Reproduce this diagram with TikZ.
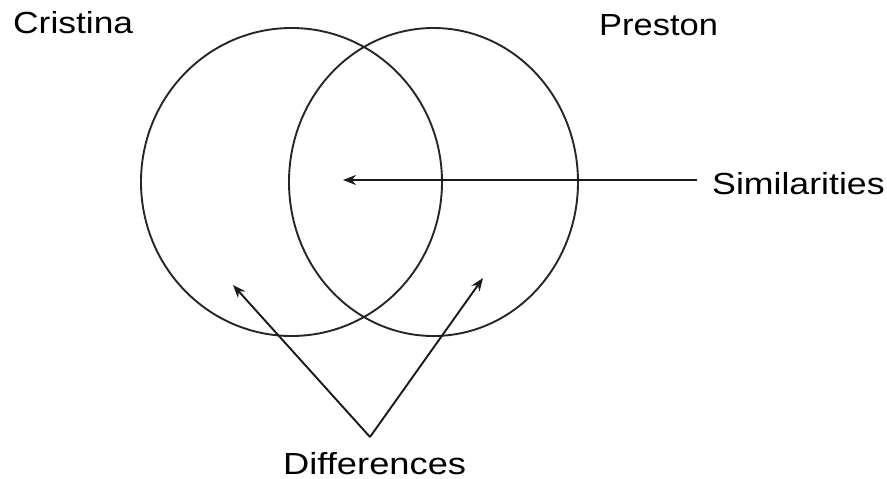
\documentclass[tikz,border=0pt]{standalone}
\usepackage{fontspec}
\setmainfont{Liberation Sans}
\usetikzlibrary{arrows.meta}
\begin{document}
\begin{tikzpicture}[x=1pt,y=-1pt,
  lbl/.style={anchor=base west,inner sep=0pt,font=\fontsize{30.5}{36}\selectfont},
  ring/.style={draw=black!85,line width=1.9pt},
  pointer/.style={draw=black!90,line width=1.9pt,-{Stealth[length=13pt,width=10pt]}}]
\useasboundingbox (0,0) rectangle (887,479);
\draw[ring] (291.5,182) ellipse [x radius=150.5, y radius=154];
\draw[ring] (433.5,182) ellipse [x radius=144.5, y radius=154];
\node[lbl] (cristina) at (13,34) {\scalebox{1.16}[1]{Cristina}};
\node[lbl] (preston) at (599,35) {\scalebox{1.13}[1]{Preston}};
\node[lbl] (sim) at (712,194) {\scalebox{1.17}[1]{Similarities}};
\node[lbl] (diff) at (283,474) {\scalebox{1.19}[1]{Differences}};
\coordinate (simstart) at (697,180);
\coordinate (simtip) at (343,180);
\coordinate (apex) at (370,437);
\coordinate (ltip) at (233,285);
\coordinate (rtip) at (483,278);
\draw[pointer] (simstart) -- (simtip);
\draw[pointer] (apex) -- (ltip);
\draw[pointer] (apex) -- (rtip);
\end{tikzpicture}
\end{document}
